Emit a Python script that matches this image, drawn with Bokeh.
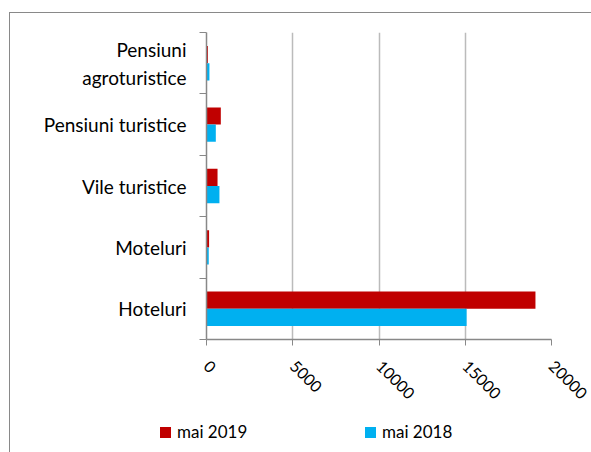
import math
from bokeh.plotting import figure
from bokeh.layouts import column
from bokeh.models import Range1d, FixedTicker, Div
from bokeh.embed import file_html
from bokeh.resources import INLINE

categories = ["Hoteluri", "Moteluri", "Vile turistice", "Pensiuni turistice", "Pensiuni\nagroturistice"]
mai_2019 = [19070, 150, 640, 830, 80]
mai_2018 = [15080, 130, 750, 540, 170]
x_ticks = [0, 5000, 10000, 15000, 20000]
series_labels = ["mai 2019", "mai 2018"]
series_colors = ["#C00000", "#00B0F0"]

FONT = "Lato"
AXIS_COLOR = "#888888"
FRAME_COLOR = "#898989"
GRAD = f"linear-gradient({FRAME_COLOR},{FRAME_COLOR})"

p = figure(width=591, height=418, output_backend="svg", toolbar_location=None,
           x_range=Range1d(0, 20000), y_range=Range1d(0, len(categories)),
           min_border_left=206, min_border_right=40, min_border_top=32, min_border_bottom=79)
p.outline_line_color = None
p.background_fill_color = "white"
p.border_fill_alpha = 0
# outer chart-area border (only its top and left edges are inside the window)
p.styles = {
    "background-color": "white",
    "background-image": f"{GRAD}, {GRAD}",
    "background-size": "100% 1px, 1px 100%",
    "background-position": "9px 12px, 9px 12px",
    "background-repeat": "no-repeat",
}

centers = [i + 0.5 for i in range(len(categories))]
bar_h = 0.28
p.hbar(y=[c + bar_h / 2 for c in centers], right=mai_2019, left=0, height=bar_h,
       fill_color=series_colors[0], line_color=None)
p.hbar(y=[c - bar_h / 2 for c in centers], right=mai_2018, left=0, height=bar_h,
       fill_color=series_colors[1], line_color=None)

# x axis
p.xaxis.ticker = FixedTicker(ticks=x_ticks)
p.xaxis.major_label_orientation = -math.pi / 4
p.xaxis.axis_line_color = AXIS_COLOR
p.xaxis.axis_line_width = 1.5
p.xaxis.major_tick_line_color = AXIS_COLOR
p.xaxis.major_tick_in = 0
p.xaxis.major_tick_out = 6
p.xaxis.minor_tick_line_color = None
p.xaxis.major_label_text_font = FONT
p.xaxis.major_label_text_font_size = "16px"
p.xaxis.major_label_text_color = "black"
p.xaxis.major_label_standoff = 18

# y axis
p.yaxis.ticker = FixedTicker(ticks=centers, minor_ticks=list(range(len(categories) + 1)))
p.yaxis.major_label_overrides = {c: lab for c, lab in zip(centers, categories)}
p.yaxis.axis_line_color = AXIS_COLOR
p.yaxis.axis_line_width = 1.5
p.yaxis.major_tick_line_color = None
p.yaxis.major_tick_out = 7
p.yaxis.major_tick_in = 0
p.yaxis.minor_tick_line_color = AXIS_COLOR
p.yaxis.minor_tick_out = 7
p.yaxis.minor_tick_in = 0
p.yaxis.major_label_text_font = FONT
p.yaxis.major_label_text_font_size = "19px"
p.yaxis.major_label_text_color = "black"
p.yaxis.major_label_standoff = 13

p.xgrid.ticker = FixedTicker(ticks=x_ticks)
p.xgrid.grid_line_color = "#BBBBBB"
p.xgrid.grid_line_width = 1.5
p.ygrid.grid_line_color = None

# legend row below the chart
item_left = [160, 365]
items_html = ""
for lab, col, x0 in zip(series_labels, series_colors, item_left):
    items_html += (
        f'<span style="position:absolute;left:{x0}px;top:9px;width:11px;height:11px;background:{col};"></span>'
        f'<span style="position:absolute;left:{x0 + 17}px;top:4px;font-family:Lato;font-size:17px;'
        f'line-height:20px;color:black;white-space:nowrap;">{lab}</span>'
    )
legend_div = Div(
    text=f'<div style="position:relative;width:591px;height:34px;">{items_html}</div>',
    width=591, height=34,
    styles={
        "background-color": "white",
        "background-image": GRAD,
        "background-size": "1px 100%",
        "background-position": "9px 0px",
        "background-repeat": "no-repeat",
        "margin": "0", "padding": "0",
    },
)

layout = column(p, legend_div, spacing=0)
open("out.html", "w").write(file_html(layout, INLINE))
